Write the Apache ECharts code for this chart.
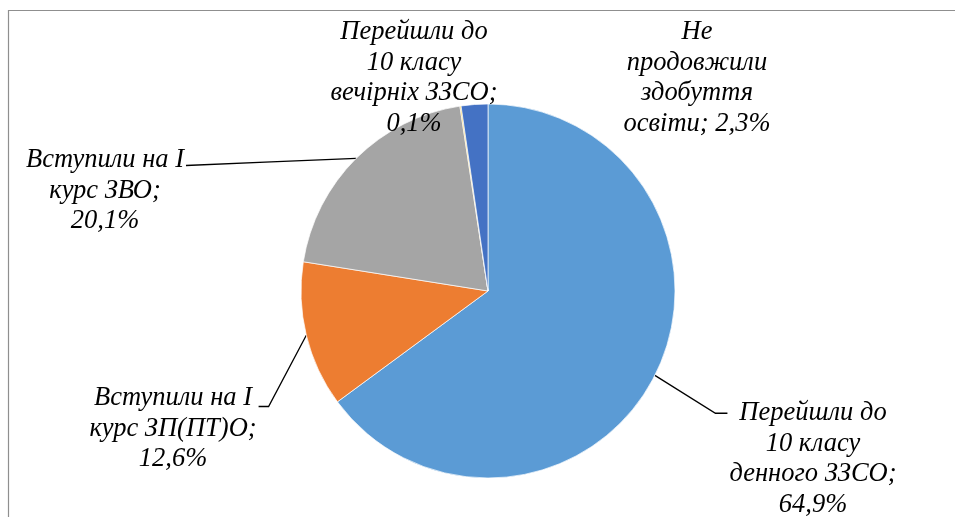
<!DOCTYPE html>
<html><head><meta charset="utf-8">
<script src="https://cdn.jsdelivr.net/npm/echarts@6/dist/echarts.min.js"></script>
<style>html,body{margin:0;padding:0;background:#fff}#c{width:955px;height:517px}</style>
</head><body><div id="c"></div>
<script>
// ---- data ----
const categories = [
  'Перейшли до\n10 класу\nденного ЗЗСО',
  'Вступили на I\nкурс ЗП(ПТ)О',
  'Вступили на I\nкурс ЗВО',
  'Перейшли до\n10 класу\nвечірніх ЗЗСО',
  'Не\nпродовжили\nздобуття\nосвіти'
];
const values = [64.9, 12.6, 20.1, 0.1, 2.3];
const percentSeparators = ['\n', '\n', '\n', '\n', ' '];
const colors = ['#5B9BD5', '#ED7D31', '#A5A5A5', '#FFC000', '#4472C4'];

// ---- layout ----
const CX = 488, CY = 291, R = 187;
const FONT = 26.5, LH = 30.5;
const labelCenters = [[813, 459], [173, 429], [105, 191], [414, 78], [697, 78]];
const leaderSide = ['left', 'right', 'right', null, null];
const leaderElbow = [12, 10, 0, 0, 0];
const leaderYOffset = [0, 8, 5, 0, 0];

const total = values.reduce((a, b) => a + b, 0);
const midAngles = [];
let acc = 0;
values.forEach(v => { midAngles.push((acc + v / 2) / total * Math.PI * 2); acc += v; });

const fmt = v => v.toFixed(1).replace('.', ',') + '%';

const chart = echarts.init(document.getElementById('c'), null, {renderer: 'canvas'});
chart.setOption({
  backgroundColor: '#ffffff',
  animation: false,
  graphic: [{
    type: 'rect', z: -10, silent: true,
    shape: {x: 8.5, y: 10.5, width: 1000, height: 1000},
    style: {fill: null, stroke: '#8f8f8f', lineWidth: 1.2}
  }],
  series: [{
    type: 'pie',
    center: [CX, CY],
    radius: R,
    startAngle: 90,
    clockwise: true,
    avoidLabelOverlap: false,
    emphasis: {disabled: true},
    itemStyle: {borderColor: '#ffffff', borderWidth: 0.7},
    data: categories.map((n, i) => ({
      name: n, value: values[i],
      itemStyle: {color: colors[i]},
      labelLine: {show: leaderSide[i] !== null}
    })),
    label: {
      show: true,
      position: 'outside',
      formatter: p => p.name + ';' + percentSeparators[p.dataIndex] + fmt(p.value),
      fontFamily: '"Liberation Serif", "Times New Roman", serif',
      fontStyle: 'italic',
      fontSize: FONT,
      lineHeight: LH,
      color: '#000000',
      align: 'center'
    },
    labelLine: {show: true, lineStyle: {color: '#000000', width: 1.3}},
    labelLayout: function (params) {
      const i = params.dataIndex;
      const [cx, cy] = labelCenters[i];
      const w = params.labelRect.width, h = params.labelRect.height;
      const out = {x: cx, y: cy, align: 'center', verticalAlign: 'middle'};
      if (leaderSide[i]) {
        const a = midAngles[i];
        const s = [CX + R * Math.sin(a), CY - R * Math.cos(a)];
        const ey = cy - h / 2 + LH / 2 + leaderYOffset[i];
        let ex, mx;
        if (leaderSide[i] === 'left') { ex = cx - w / 2 - 2; mx = ex - leaderElbow[i]; }
        else { ex = cx + w / 2 + 2; mx = ex + leaderElbow[i]; }
        const m = leaderElbow[i] ? [mx, ey] : [(s[0] + ex) / 2, (s[1] + ey) / 2];
        out.labelLinePoints = [s, m, [ex, ey]];
      }
      return out;
    }
  }]
});
</script>
</body></html>
